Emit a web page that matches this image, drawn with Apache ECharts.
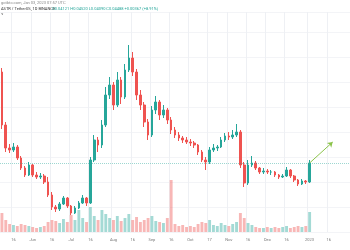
<!DOCTYPE html>
<html>
<head>
<meta charset="utf-8">
<style>
html,body{margin:0;padding:0;background:#fff}
#chart{width:350px;height:250px}
</style>
<script src="https://cdn.jsdelivr.net/npm/echarts@6.0.0/dist/echarts.min.js"></script>
</head>
<body>
<div id="chart"></div>
<script>
// 3-day candles
var startDay=Date.UTC(2022,4,7), stepDays=3, slotCount=91;
var opens=[1.60,1.07,0.84,0.82,0.85,0.74,0.64,0.57,0.67,0.57,0.55,0.56,0.50,0.37,0.25,0.23,0.28,0.34,0.26,0.19,0.24,0.29,0.34,0.29,0.72,0.92,0.87,1.07,1.37,1.47,1.27,1.52,1.35,1.62,1.74,1.60,1.37,1.27,1.10,0.97,1.22,1.30,1.17,1.22,1.12,1.02,0.97,0.94,0.92,0.90,0.89,0.87,0.80,0.72,0.70,0.82,0.84,0.85,0.92,0.96,0.95,0.97,1.00,0.67,0.49,0.67,0.69,0.64,0.60,0.61,0.60,0.60,0.57,0.55,0.56,0.62,0.56,0.52,0.48,0.51,0.50];
var closes=[1.07,0.84,0.82,0.85,0.74,0.64,0.57,0.67,0.57,0.55,0.56,0.50,0.37,0.25,0.23,0.28,0.34,0.26,0.19,0.24,0.29,0.34,0.29,0.72,0.92,0.87,1.07,1.37,1.47,1.27,1.52,1.35,1.62,1.74,1.60,1.37,1.27,1.10,0.97,1.22,1.30,1.17,1.22,1.12,1.02,0.97,0.94,0.92,0.90,0.89,0.87,0.80,0.72,0.70,0.82,0.84,0.85,0.92,0.96,0.95,0.97,1.00,0.67,0.49,0.67,0.69,0.64,0.60,0.61,0.60,0.60,0.57,0.55,0.56,0.62,0.56,0.52,0.48,0.51,0.50,0.69];
var highs=[1.64,1.10,0.88,0.89,0.87,0.76,0.66,0.70,0.68,0.60,0.59,0.58,0.55,0.40,0.27,0.30,0.36,0.35,0.27,0.26,0.31,0.37,0.35,0.75,0.97,0.95,1.12,1.45,1.55,1.50,1.60,1.55,1.68,1.87,1.80,1.63,1.42,1.30,1.13,1.26,1.36,1.32,1.27,1.24,1.15,1.05,1.00,0.96,0.95,0.93,0.91,0.88,0.82,0.75,0.85,0.88,0.87,0.95,0.99,1.00,1.02,1.08,1.02,0.70,0.72,0.76,0.71,0.65,0.64,0.63,0.62,0.61,0.58,0.58,0.65,0.63,0.57,0.53,0.53,0.52,0.72];
var lows=[1.03,0.80,0.79,0.80,0.72,0.62,0.55,0.56,0.55,0.53,0.53,0.48,0.35,0.22,0.20,0.21,0.27,0.24,0.17,0.18,0.23,0.28,0.26,0.28,0.70,0.80,0.84,1.05,1.33,1.22,1.25,1.28,1.33,1.60,1.56,1.32,1.22,1.05,0.92,0.95,1.18,1.12,1.14,1.08,0.98,0.94,0.91,0.89,0.88,0.86,0.84,0.77,0.70,0.62,0.68,0.80,0.81,0.84,0.90,0.92,0.93,0.95,0.64,0.45,0.47,0.65,0.62,0.58,0.58,0.58,0.57,0.55,0.53,0.54,0.55,0.54,0.50,0.46,0.47,0.48,0.49];
var volumes=[19,12,8,7,6,8,7,6,5,4,5,6,10,12,11,9,13,10,17,12,22,14,10,25,16,12,22,18,14,12,16,11,14,18,12,15,10,12,14,16,11,10,9,14,52,8,6,7,5,6,5,8,10,9,12,7,6,9,7,6,8,10,19,14,9,7,5,4,4,5,4,5,4,5,6,4,5,6,5,6,20];
var tickDates=["2022-05-16","2022-06-01","2022-06-16","2022-07-01","2022-07-16","2022-08-01","2022-08-16","2022-09-01","2022-09-16","2022-10-01","2022-10-17","2022-11-01","2022-11-16","2022-12-01","2022-12-16","2023-01-01","2023-01-16"];
var tickTexts=["16","Jun","16","Jul","16","Aug","16","Sep","16","Oct","17","Nov","16","Dec","16","2023","16"];
var targetDay="2023-01-20", targetPrice=0.90;

var upColor="#26a69a", downColor="#ef5350";

function isoDay(ms){return new Date(ms).toISOString().slice(0,10);}

var days=[];
for(var i=0;i<slotCount;i++){days.push(isoDay(startDay+i*stepDays*86400000));}

// put each tick label on the nearest slot
var tickAt={};
for(var t=0;t<tickDates.length;t++){
    var ms=Date.parse(tickDates[t]+"T00:00:00Z");
    var k=Math.round((ms-startDay)/(stepDays*86400000));
    tickAt[days[k]]=tickTexts[t];
}

var candles=[], vols=[];
for(var j=0;j<closes.length;j++){
    candles.push([opens[j],closes[j],lows[j],highs[j]]);
    var up=closes[j]>=opens[j];
    vols.push({value:volumes[j],itemStyle:{color:up?"rgba(38,166,154,0.42)":"rgba(239,83,80,0.42)"}});
}
var last=closes.length-1;

var chart=echarts.init(document.getElementById("chart"));
chart.setOption({
    animation:false,
    graphic:[
        {type:"text",left:1,top:1,style:{text:"gotbtc.com, Jan 03, 2023 07:57 UTC",fontSize:4,fill:"#888",fontFamily:"Roboto"}},
        {type:"text",left:1,top:7,style:{text:"ASTR / TetherUS, 1D BINANCE",fontSize:4,fill:"#333",fontFamily:"Roboto"}},
        {type:"text",left:52,top:7,style:{text:"O0.04121 H0.04520 L0.04090 C0.04488 +0.00367 (+8.91%)",fontSize:4,fill:upColor,fontFamily:"Roboto"}},
        {type:"text",left:1,top:12,style:{text:"V",fontSize:4,fill:"#555",fontFamily:"Roboto"}}
    ],
    grid:{left:0,right:0,top:12,height:220},
    xAxis:{
        type:"category",data:days,boundaryGap:true,
        axisLine:{show:false},axisTick:{show:false},
        axisLabel:{
            interval:function(idx,val){return tickAt[val]!==undefined;},
            formatter:function(val){return tickAt[val]||"";},
            fontSize:4,color:"#777",margin:6,fontFamily:"Roboto"
        },
        splitLine:{show:true,interval:function(idx,val){return tickAt[val]!==undefined;},lineStyle:{color:"#eef0f4",width:1}}
    },
    yAxis:[
        {type:"value",min:0,max:2.2,interval:0.25,show:true,position:"right",
            axisLine:{show:false},axisTick:{show:false},axisLabel:{show:false},
            splitLine:{lineStyle:{color:"#f3f4f7",width:1}}},
        {type:"value",min:0,max:220,show:false}
    ],
    series:[
        {type:"bar",yAxisIndex:1,data:vols,barWidth:"75%",silent:true},
        {type:"candlestick",data:candles,barWidth:"55%",
            itemStyle:{color:upColor,color0:downColor,borderColor:upColor,borderColor0:downColor,borderWidth:1},
            markLine:{
                silent:true,symbol:"none",symbolSize:5,label:{show:false},animation:false,
                data:[
                    {yAxis:closes[last],lineStyle:{type:"dotted",color:"rgba(38,166,154,0.45)",width:1}},
                    [{coord:[days[last],closes[last]],symbol:"none",lineStyle:{type:"solid",color:"#8bc34a",width:1}},
                     {coord:[targetDay,targetPrice],symbol:"arrow"}]
                ]
            }
        }
    ]
});
</script>
</body>
</html>
